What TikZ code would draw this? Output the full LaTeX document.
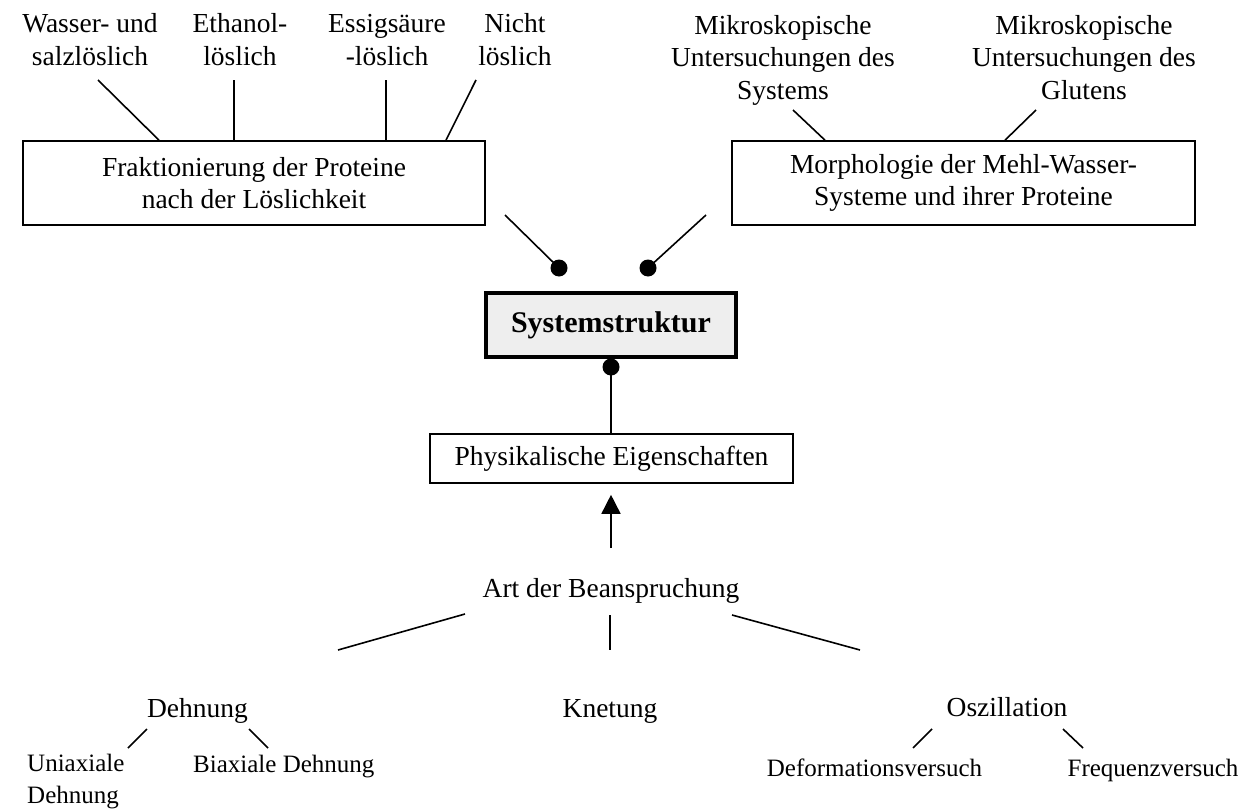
\documentclass[tikz,border=0pt]{standalone}
\usepackage{fontspec}
\setmainfont{Liberation Serif}
\usetikzlibrary{arrows.meta}
\begin{document}
\begin{tikzpicture}[x=1pt,y=-1pt,
  lab/.style={font=\fontsize{27.5}{32.5}\selectfont, align=center, inner sep=0pt, anchor=base},
  small/.style={font=\fontsize{25}{32}\selectfont, inner sep=0pt, anchor=base},
  box/.style={draw, line width=1.6pt, font=\fontsize{27.5}{32.5}\selectfont, align=center, inner sep=0pt},
  link/.style={line width=1.6pt},
  dot/.style={circle, fill, inner sep=0pt, minimum size=17pt},
]
\useasboundingbox (0,0) rectangle (1256,811);

% solubility fractions (anchored at the baseline of the last line)
\node[lab] (wasser)  at (90,65)  {Wasser- und\\salzlöslich};
\node[lab] (ethanol) at (240,65) {Ethanol-\\löslich};
\node[lab] (essig)   at (387,65) {Essigsäure\\-löslich};
\node[lab] (nicht)   at (515,65) {Nicht\\löslich};

% microscopy
\node[lab] (mikroA) at (783,99)  {Mikroskopische\\Untersuchungen des\\Systems};
\node[lab] (mikroB) at (1084,99) {Mikroskopische\\Untersuchungen des\\Glutens};

% upper boxes
\node[box, minimum width=462pt, minimum height=84pt] (frak) at (254,183)
  {Fraktionierung der Proteine\\nach der Löslichkeit};
\node[box, minimum width=463pt, minimum height=84pt] (morph) at (963.5,183)
  {Morphologie der Mehl-Wasser-\\Systeme und ihrer Proteine};

\coordinate (wA) at (98,80);
\coordinate (eA) at (234,80);
\coordinate (sA) at (386,80);
\coordinate (nA) at (476,80);
\draw[link] (wA) -- (frak.north -| 159,0);
\draw[link] (eA) -- (frak.north -| 234,0);
\draw[link] (sA) -- (frak.north -| 386,0);
\draw[link] (nA) -- (frak.north -| 446,0);

\coordinate (mA) at (793,110);
\coordinate (mB) at (1036,110);
\draw[link] (mA) -- (morph.north -| 825,0);
\draw[link] (mB) -- (morph.north -| 1005,0);

% central element
\node[draw, line width=3.5pt, fill=gray!13, minimum width=250pt, minimum height=64pt,
      font=\fontsize{30}{36}\selectfont\bfseries] (sys) at (611,325) {Systemstruktur};

\node[dot] (dl) at (559,268) {};
\node[dot] (dr) at (648,268) {};
\node[dot] (db) at (611,367) {};
\coordinate (dlA) at (505,215);
\coordinate (drA) at (706,215);
\draw[link] (dlA) -- (dl.center);
\draw[link] (drA) -- (dr.center);

\node[box, minimum width=363pt, minimum height=49pt] (phys) at (611.5,458.5)
  {Physikalische Eigenschaften};
\draw[link] (db.center) -- (db.center |- phys.north);

% load types
\node[lab] (art) at (611,597) {Art der Beanspruchung};
\coordinate (aA) at (611,548);
\draw[link, -{Triangle[width=19pt,length=19pt]}] (aA) -- ([yshift=-11pt]phys.south -| aA);

\coordinate (l1) at (465,614); \coordinate (l2) at (338,650);
\coordinate (m1) at (610,615); \coordinate (m2) at (610,650);
\coordinate (r1) at (732,615); \coordinate (r2) at (860,650);
\draw[link] (l1) -- (l2);
\draw[link] (m1) -- (m2);
\draw[link] (r1) -- (r2);

\node[lab] (dehn) at (197.5,717) {Dehnung};
\node[lab] (knet) at (610,717)   {Knetung};
\node[lab] (osz)  at (1007,716)  {Oszillation};

\coordinate (d1) at (147,729); \coordinate (d2) at (128,748);
\coordinate (d3) at (249,729); \coordinate (d4) at (268,748);
\coordinate (o1) at (932,729); \coordinate (o2) at (913,748);
\coordinate (o3) at (1063,729); \coordinate (o4) at (1083,748);
\draw[link] (d1) -- (d2);
\draw[link] (d3) -- (d4);
\draw[link] (o1) -- (o2);
\draw[link] (o3) -- (o4);

\node[small, align=left, anchor=base west] (uni) at (27,803) {Uniaxiale\\Dehnung};
\node[small, anchor=base west] (bi) at (193,772) {Biaxiale Dehnung};
\node[small] (defo) at (874.5,776) {Deformationsversuch};
\node[small] (freq) at (1153,776) {Frequenzversuch};
\end{tikzpicture}
\end{document}
